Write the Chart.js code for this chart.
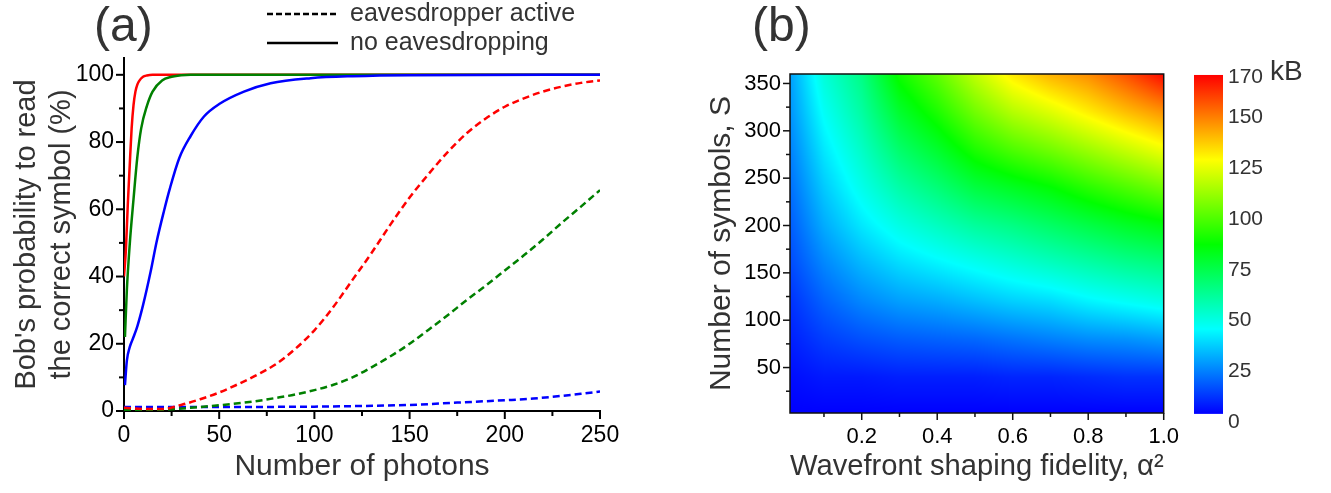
<!DOCTYPE html>
<html>
<head>
<meta charset="utf-8">
<script src="https://cdn.jsdelivr.net/npm/chart.js@4.4.1/dist/chart.umd.min.js"></script>
<style>
  html, body { margin: 0; padding: 0; background: #fff; }
  body { width: 1331px; height: 493px; position: relative; overflow: hidden; }
  canvas { position: absolute; top: 0; }
  #chartA { left: 0; }
  #chartB { left: 690px; }
  #chartC { left: 1180px; }
</style>
</head>
<body>
<canvas id="chartA" width="640" height="493"></canvas>
<canvas id="chartB" width="500" height="493"></canvas>
<canvas id="chartC" width="151" height="493"></canvas>
<script>
const FONT = "'Liberation Sans', Arial, sans-serif";

// ---- panel (a): probability vs photon number, [photons, %] ----
const redNoEve = [[0,40],[1,48],[2,61.5],[3,73],[4,84],[5,91],[6,95],[7,97.1],[8,98.2],[10,99.4],[12,99.8],[15,100],[250,100]];
const greenNoEve = [[0.5,22],[1.5,36],[3,49.5],[5,63],[7,75.5],[9,84],[12,90.7],[15,95],[20,98.3],[25,99.4],[30,99.9],[35,100],[250,100]];
const blueNoEve = [[0.5,7.7],[1.5,15],[3,19],[5,22],[7,25.2],[10,31.5],[14,41.5],[17,50],[21,59.5],[24,66],[29,75.2],[35,81.8],[42,87.6],[50,91.3],[63,95],[77,97.5],[98,99],[120,99.6],[150,99.9],[250,100]];
const redEve = [[0,1.0],[10,0.6],[20,0.6],[30,1.8],[40,3.5],[50,5.5],[60,8],[70,10.8],[80,14],[90,18.5],[100,24],[110,31],[120,39],[130,47],[140,55.5],[150,63.5],[160,70.5],[170,77],[180,82.6],[190,87],[200,90.5],[210,93],[220,95],[230,96.5],[240,97.6],[250,98.3]];
const greenEve = [[0,0.3],[20,0.4],[40,1.2],[50,1.7],[60,2.3],[70,3],[80,3.9],[90,4.9],[100,6.2],[110,7.8],[120,10],[130,13],[140,16.3],[150,20],[160,24.2],[170,28.5],[180,33],[190,37.3],[200,41.8],[210,46.3],[220,51],[230,56],[240,60.8],[250,65.7]];
const blueEve = [[0,1.2],[50,1.2],[100,1.3],[125,1.5],[150,1.8],[175,2.5],[200,3.2],[215,3.7],[230,4.5],[240,5.1],[250,5.8]];

const photonTicks = [0, 50, 100, 150, 200, 250];
const photonMinor = [25, 75, 125, 175, 225];
const probTicks = [0, 20, 40, 60, 80, 100];
const probMinor = [10, 30, 50, 70, 90];
const legendLabels = ['eavesdropper active', 'no eavesdropping'];

// ---- panel (b): key size (kB) over fidelity x symbols ----
const alphaGrid = [0.01, 0.1, 0.2, 0.3, 0.4, 0.5, 0.6, 0.7, 0.8, 0.9, 1.0];
const symbolGrid = [2, 40, 80, 120, 160, 200, 240, 280, 320, 360];
const capS2   = [4, 4, 4, 4, 4, 4, 4, 4, 4, 4, 4];
const capS40  = [6, 8, 8, 9, 9, 9, 10, 10, 11, 12, 12];
const capS80  = [9, 14, 17, 19, 20, 21, 23, 25, 27, 28, 30];
const capS120 = [12, 20, 26, 30, 32, 35, 38, 40, 44, 47, 50];
const capS160 = [16, 26, 34, 40, 44, 48, 52, 56, 60, 64, 67];
const capS200 = [19, 32, 42, 50, 56, 62, 66, 71, 76, 81, 85];
const capS240 = [22, 37, 49, 60, 68, 77, 82, 87, 94, 100, 106];
const capS280 = [25, 42, 55, 70, 80, 92, 100, 106, 113, 120, 127];
const capS320 = [28, 47, 61, 80, 92, 106, 117, 124, 132, 140, 147];
const capS360 = [30, 52, 66, 90, 103, 119, 133, 142, 148, 158, 170];
const capacityRows = [capS2, capS40, capS80, capS120, capS160, capS200, capS240, capS280, capS320, capS360];

const alphaTicks = [0.2, 0.4, 0.6, 0.8, 1.0];
const alphaMinor = [0.1, 0.3, 0.5, 0.7, 0.9];
const symbolTicks = [50, 100, 150, 200, 250, 300, 350];
const symbolMinor = [25, 75, 125, 175, 225, 275, 325];
const colorTicks = [0, 25, 50, 75, 100, 125, 150, 170];
const colorRange = [4, 171];
const rainbowStops = [[0,0,255],[0,255,255],[0,255,0],[255,255,0],[255,0,0]];

Chart.defaults.font.family = FONT;
Chart.defaults.color = '#000';

function toXY(arr) { return arr.map(p => ({ x: p[0], y: p[1] })); }

function rainbow(t) {
  t = Math.max(0, Math.min(1, t));
  const n = rainbowStops.length - 1;
  const k = Math.min(n - 1, Math.floor(t * n));
  const f = t * n - k;
  const a = rainbowStops[k], b = rainbowStops[k + 1];
  return [a[0] + (b[0] - a[0]) * f, a[1] + (b[1] - a[1]) * f, a[2] + (b[2] - a[2]) * f];
}

function segIndex(arr, v) {
  let k = 0;
  while (k < arr.length - 2 && v > arr[k + 1]) k++;
  return k;
}

// ticks drawn outside the axes, major and minor
function makeTicks(items, color, width) {
  return {
    id: 'outerTicks',
    afterDraw(chart) {
      const ctx = chart.ctx;
      ctx.save();
      ctx.strokeStyle = color;
      ctx.lineWidth = width;
      items.forEach(item => {
        const scale = chart.scales[item.axis];
        item.values.forEach(v => {
          const p = scale.getPixelForValue(v);
          ctx.beginPath();
          if (item.axis === 'x') {
            ctx.moveTo(p, chart.chartArea.bottom);
            ctx.lineTo(p, chart.chartArea.bottom + item.len);
          } else {
            ctx.moveTo(chart.chartArea.left, p);
            ctx.lineTo(chart.chartArea.left - item.len, p);
          }
          ctx.stroke();
        });
      });
      ctx.restore();
    }
  };
}

const panelAExtras = {
  id: 'panelAExtras',
  afterDraw(chart) {
    const ctx = chart.ctx;
    ctx.save();
    ctx.fillStyle = '#333';
    ctx.textBaseline = 'middle';
    ctx.font = '48px ' + FONT;
    ctx.fillText('(a)', 94, 28);
    const dashes = [[6, 3], []];
    legendLabels.forEach((txt, i) => {
      const y = 14 + i * 29;
      ctx.strokeStyle = '#000';
      ctx.lineWidth = 2.5;
      ctx.setLineDash(dashes[i]);
      ctx.beginPath();
      ctx.moveTo(267, y);
      ctx.lineTo(338, y);
      ctx.stroke();
      ctx.setLineDash([]);
      ctx.font = '25px ' + FONT;
      ctx.fillText(txt, 350, y);
    });
    ctx.restore();
  }
};

function lineSet(data, color, dashed) {
  return {
    data: toXY(data),
    borderColor: color,
    borderWidth: 2.5,
    borderDash: dashed ? [7, 4] : [],
    pointRadius: 0,
    fill: false,
    cubicInterpolationMode: 'monotone'
  };
}

new Chart(document.getElementById('chartA'), {
  type: 'line',
  data: {
    datasets: [
      lineSet(blueNoEve, '#0000ff', false),
      lineSet(greenNoEve, '#008000', false),
      lineSet(redNoEve, '#ff0000', false),
      lineSet(redEve, '#ff0000', true),
      lineSet(greenEve, '#008000', true),
      lineSet(blueEve, '#0000ff', true)
    ]
  },
  options: {
    responsive: false,
    animation: false,
    events: [],
    layout: { padding: { top: 58, right: 40, left: 0, bottom: 0 } },
    plugins: { legend: { display: false }, tooltip: { enabled: false } },
    scales: {
      x: {
        type: 'linear', min: 0, max: 250,
        afterBuildTicks: s => { s.ticks = photonTicks.map(v => ({ value: v })); },
        afterFit: s => { s.height = 82; },
        grid: { display: false, drawTicks: false },
        border: { display: true, color: '#000', width: 2 },
        ticks: { padding: 11, color: '#000', font: { size: 23 }, maxRotation: 0, autoSkip: false },
        title: { display: true, text: 'Number of photons', color: '#333', font: { size: 30 }, padding: { top: 0, bottom: 8 } }
      },
      y: {
        type: 'linear', min: 0, max: 105,
        afterBuildTicks: s => { s.ticks = probTicks.map(v => ({ value: v })); },
        afterFit: s => { s.width = 124; },
        grid: { display: false, drawTicks: false },
        border: { display: true, color: '#000', width: 2 },
        ticks: { padding: 10, color: '#000', font: { size: 23 } },
        title: {
          display: true,
          text: ["Bob's probability to read", 'the correct symbol (%)'],
          color: '#333', font: { size: 29, lineHeight: 1.2 }, padding: { top: 10, bottom: 0 }
        }
      }
    }
  },
  plugins: [makeTicks([
    { axis: 'x', values: photonTicks, len: 8 },
    { axis: 'x', values: photonMinor, len: 5 },
    { axis: 'y', values: probTicks, len: 8 },
    { axis: 'y', values: probMinor, len: 5 }
  ], '#000', 2), panelAExtras]
});

// heatmap painted through the chart scales from the read grid
const heatmap = {
  id: 'heatmap',
  beforeDatasetsDraw(chart) {
    const { ctx, chartArea: a, scales: { x, y } } = chart;
    const w = Math.round(a.right - a.left), h = Math.round(a.bottom - a.top);
    const off = document.createElement('canvas');
    off.width = w; off.height = h;
    const octx = off.getContext('2d');
    const img = octx.createImageData(w, h);
    const cols = [];
    for (let i = 0; i < w; i++) {
      const al = x.getValueForPixel(a.left + i + 0.5);
      const k = segIndex(alphaGrid, al);
      const t = Math.max(0, Math.min(1, (al - alphaGrid[k]) / (alphaGrid[k + 1] - alphaGrid[k])));
      cols.push([k, t]);
    }
    for (let j = 0; j < h; j++) {
      const s = y.getValueForPixel(a.top + j + 0.5);
      const r = segIndex(symbolGrid, s);
      const ty = Math.max(0, Math.min(1, (s - symbolGrid[r]) / (symbolGrid[r + 1] - symbolGrid[r])));
      const r0 = capacityRows[r], r1 = capacityRows[r + 1];
      for (let i = 0; i < w; i++) {
        const [k, tx] = cols[i];
        const v0 = r0[k] + (r0[k + 1] - r0[k]) * tx;
        const v1 = r1[k] + (r1[k + 1] - r1[k]) * tx;
        const v = v0 + (v1 - v0) * ty;
        const c = rainbow((v - colorRange[0]) / (colorRange[1] - colorRange[0]));
        const o = (j * w + i) * 4;
        img.data[o] = c[0]; img.data[o + 1] = c[1]; img.data[o + 2] = c[2]; img.data[o + 3] = 255;
      }
    }
    octx.putImageData(img, 0, 0);
    ctx.drawImage(off, a.left, a.top);
  },
  afterDraw(chart) {
    const { ctx, chartArea: a } = chart;
    ctx.save();
    ctx.strokeStyle = '#111';
    ctx.lineWidth = 1.5;
    ctx.strokeRect(a.left, a.top, a.right - a.left, a.bottom - a.top);
    ctx.fillStyle = '#333';
    ctx.textBaseline = 'middle';
    ctx.font = '48px ' + FONT;
    ctx.fillText('(b)', 62, 28);
    ctx.restore();
  }
};

const gridPoints = [];
symbolGrid.forEach((s, j) => alphaGrid.forEach((al, i) => gridPoints.push({ x: al, y: s, v: capacityRows[j][i] })));

new Chart(document.getElementById('chartB'), {
  type: 'scatter',
  data: { datasets: [{ data: gridPoints, pointRadius: 0, pointHoverRadius: 0 }] },
  options: {
    responsive: false,
    animation: false,
    events: [],
    layout: { padding: { top: 74, right: 15, left: 0, bottom: 0 } },
    plugins: { legend: { display: false }, tooltip: { enabled: false } },
    scales: {
      x: {
        type: 'linear', min: 0.01, max: 1.0,
        afterBuildTicks: s => { s.ticks = alphaTicks.map(v => ({ value: v })); },
        afterFit: s => { s.height = 80; },
        grid: { display: false, drawTicks: false },
        border: { display: false },
        ticks: { padding: 11, color: '#000', font: { size: 22 }, maxRotation: 0, autoSkip: false, callback: v => Number(v).toFixed(1) },
        title: { display: true, text: 'Wavefront shaping fidelity, \u03b1\u00b2', color: '#333', font: { size: 30 }, padding: { top: 0, bottom: 8 } }
      },
      y: {
        type: 'linear', min: 2, max: 360,
        afterBuildTicks: s => { s.ticks = symbolTicks.map(v => ({ value: v })); },
        afterFit: s => { s.width = 100; },
        grid: { display: false, drawTicks: false },
        border: { display: false },
        ticks: { padding: 9, color: '#000', font: { size: 22 } },
        title: { display: true, text: 'Number of symbols, S', color: '#333', font: { size: 30 }, padding: { top: 14, bottom: 0 } }
      }
    }
  },
  plugins: [heatmap, makeTicks([
    { axis: 'x', values: alphaTicks, len: 7 },
    { axis: 'x', values: alphaMinor, len: 4 },
    { axis: 'y', values: symbolTicks, len: 7 },
    { axis: 'y', values: symbolMinor, len: 4 }
  ], '#111', 1.5)]
});

// colour bar
const colorBar = {
  id: 'colorBar',
  beforeDatasetsDraw(chart) {
    const { ctx, chartArea: a, scales: { y } } = chart;
    const top = y.getPixelForValue(colorRange[1]);
    const bot = y.getPixelForValue(colorRange[0]);
    const g = ctx.createLinearGradient(0, bot, 0, top);
    rainbowStops.forEach((c, i) => g.addColorStop(i / (rainbowStops.length - 1), 'rgb(' + c.join(',') + ')'));
    ctx.save();
    ctx.fillStyle = g;
    ctx.fillRect(a.left, top, a.right - a.left, bot - top);
    ctx.fillStyle = '#333';
    ctx.textBaseline = 'middle';
    ctx.font = '28px ' + FONT;
    ctx.fillText('kB', 90, 72);
    ctx.restore();
  }
};

new Chart(document.getElementById('chartC'), {
  type: 'scatter',
  data: { datasets: [{ data: [], pointRadius: 0 }] },
  options: {
    responsive: false,
    animation: false,
    events: [],
    layout: { padding: { top: 77, right: 0, left: 14, bottom: 71 } },
    plugins: { legend: { display: false }, tooltip: { enabled: false } },
    scales: {
      x: { display: false, min: 0, max: 1 },
      y: {
        position: 'right', min: 0, max: 170,
        afterBuildTicks: s => { s.ticks = colorTicks.map(v => ({ value: v })); },
        afterFit: s => { s.width = 108; },
        grid: { display: false, drawTicks: false },
        border: { display: false },
        ticks: { padding: 5, color: '#333', font: { size: 21 } }
      }
    }
  },
  plugins: [colorBar]
});
</script>
</body>
</html>
